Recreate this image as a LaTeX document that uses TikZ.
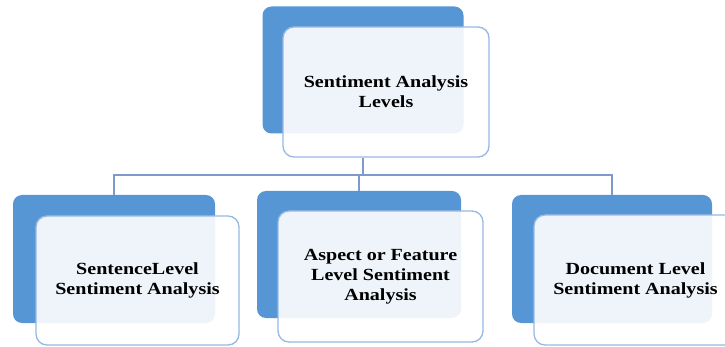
\documentclass[tikz,border=0pt]{standalone}
\usepackage{fontspec}
\setmainfont{Liberation Serif}[FakeStretch=1.18]
\usetikzlibrary{calc}
\definecolor{boxblue}{RGB}{86,150,212}
\definecolor{edgeblue}{RGB}{150,185,228}
\definecolor{connblue}{RGB}{125,155,200}
\tikzset{
  backbox/.style={draw=none, fill=boxblue, rounded corners=9pt, inner sep=0pt},
  frontbox/.style={draw=edgeblue, line width=1.3pt, fill=white, fill opacity=0.9, text opacity=1,
    rounded corners=11pt, inner sep=0pt, align=center,
    font=\bfseries\fontsize{17}{20}\selectfont, text=black},
  conn/.style={draw=connblue, line width=1.4pt}
}
\begin{document}
\begin{tikzpicture}[x=1pt,y=-1pt]
\useasboundingbox (0,0) rectangle (725,347);
\clip (0,0) rectangle (725,347);
% top
\node[backbox, minimum width=201pt, minimum height=127pt] (tb) at (363,70) {};
\node[frontbox, minimum width=206pt, minimum height=130pt] (tw) at (386,92) {Sentiment Analysis\\Levels};
% left
\node[backbox, minimum width=202pt, minimum height=128pt] (lb) at (114,259) {};
\node[frontbox, minimum width=203pt, minimum height=129pt] (lw) at (137.5,280.5) {SentenceLevel\\Sentiment Analysis};
% middle
\node[backbox, minimum width=204pt, minimum height=127pt] (mb) at (359,254.5) {};
\node[frontbox, minimum width=205pt, minimum height=131pt] (mw) at (380.5,276.5) {Aspect or Feature\\Level Sentiment\\Analysis};
% right
\node[backbox, minimum width=200pt, minimum height=128pt] (rb) at (612,259) {};
\node[frontbox, minimum width=203pt, minimum height=130pt] (rw) at (635.5,280) {Document Level\\Sentiment Analysis};
% connectors
\coordinate (j) at (363,175);
\draw[conn] (tw.south -| j) -- (j);
\draw[conn] (lb.north) -- (lb.north |- j) -- (rb.north |- j) -- (rb.north);
\draw[conn] (mb.north) -- (mb.north |- j);
\end{tikzpicture}
\end{document}
